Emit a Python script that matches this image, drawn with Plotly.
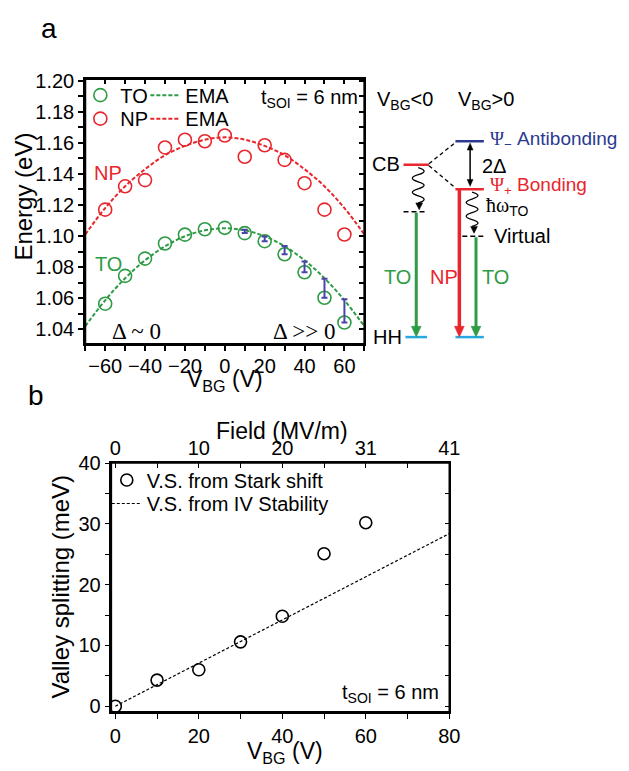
import plotly.graph_objects as go

W, H = 629, 771
SANS = "Liberation Sans, Arial, sans-serif"
SERIF = "Liberation Serif, Times New Roman, serif"

RED = "#E8262D"
GREEN = "#2E9B45"
ERRC = "#4A44A8"
NAVY = "#2B3990"
CYAN = "#27AAE1"

# ---------------- panel a data ----------------
vbg_a = [-60, -50, -40, -30, -20, -10, 0, 10, 20, 30, 40, 50, 60]
np_energy = [1.117, 1.132, 1.136, 1.157, 1.162, 1.161, 1.1647, 1.151, 1.1584, 1.149, 1.134, 1.117, 1.101]
to_energy = [1.0565, 1.0744, 1.0855, 1.0952, 1.1009, 1.1044, 1.1053, 1.1019, 1.0967, 1.0883, 1.0767, 1.0603, 1.0444]
ema_vbg = [-70, -60, -50, -40, -30, -20, -10, 0, 10, 20, 30, 40, 50, 60, 70]
ema_np = [1.101, 1.118, 1.132, 1.143, 1.152, 1.158, 1.162, 1.1635, 1.162, 1.158, 1.152, 1.143, 1.132, 1.118, 1.101]
ema_to = [1.042, 1.0587, 1.0729, 1.0844, 1.0934, 1.0999, 1.1037, 1.105, 1.1037, 1.0999, 1.0934, 1.0844, 1.0729, 1.0587, 1.042]
split_vbg = [10, 20, 30, 40, 50, 60]
split_energy = [1.1019, 1.0967, 1.0883, 1.0767, 1.0603, 1.0444]
half_split = [0.0021, 0.0031, 0.0053, 0.0070, 0.0122, 0.0150]
xticks_a = [-60, -40, -20, 0, 20, 40, 60]
top_ticks_a = [-70, -60, -50, -40, -30, -20, -10, 0, 10, 20, 30, 40, 50, 60, 70]
right_ticks_a = [1.04, 1.05, 1.06, 1.07, 1.08, 1.09, 1.10, 1.11, 1.12, 1.13, 1.14, 1.15, 1.16, 1.17, 1.18, 1.19, 1.20]

# ---------------- panel b data ----------------
vbg_b = [0, 10, 20, 30, 40, 50, 60]
vs_stark = [0.0, 4.3, 6.0, 10.6, 14.8, 25.1, 30.2]
iv_vbg = [0, 80]
iv_vs = [0.0, 28.4]
field_tickvals = [0, 10, 20, 30, 40, 50, 60, 70, 80]
field_ticktext = ["0", "", "10", "", "20", "", "31", "", "41"]
right_ticks_b = [0, 5, 10, 15, 20, 25, 30, 35, 40]


def px(x):
    return x / W


def py(y):
    return 1 - y / H


fig = go.Figure()

# EMA curves
fig.add_trace(go.Scatter(x=ema_vbg, y=ema_to, mode="lines", name="EMA", legend="legend", legendrank=2,
                         line=dict(color=GREEN, width=2, dash="4px,2px", shape="spline")))
fig.add_trace(go.Scatter(x=ema_vbg, y=ema_np, mode="lines", name="EMA", legend="legend2", legendrank=2,
                         line=dict(color=RED, width=2, dash="4px,2px", shape="spline")))
# data markers
fig.add_trace(go.Scatter(x=vbg_a, y=to_energy, mode="markers", name="TO", legend="legend", legendrank=1,
                         marker=dict(symbol="circle-open", size=13, color=GREEN, line=dict(width=1.6, color=GREEN))))
fig.add_trace(go.Scatter(x=vbg_a, y=np_energy, mode="markers", name="NP", legend="legend2", legendrank=1,
                         marker=dict(symbol="circle-open", size=13, color=RED, line=dict(width=1.6, color=RED))))
# legend spacers (keep the last legend label from being clipped)
for lg in ("legend", "legend2"):
    fig.add_trace(go.Scatter(x=[None], y=[None], mode="lines", name=" ", legend=lg, legendrank=3,
                             line=dict(color="rgba(0,0,0,0)", width=0), hoverinfo="skip"))
# splitting bars
fig.add_trace(go.Scatter(x=split_vbg, y=split_energy, mode="markers", showlegend=False,
                         marker=dict(size=1, color="rgba(0,0,0,0)"),
                         error_y=dict(type="data", symmetric=False, array=half_split,
                                      arrayminus=[0] * len(half_split), color=ERRC, thickness=2, width=3)))
# invisible traces so the mirror (top/right) axes subplots are drawn
fig.add_trace(go.Scatter(x=[0], y=[1.1], xaxis="x2", yaxis="y2", mode="markers", showlegend=False,
                         marker=dict(size=1, color="rgba(0,0,0,0)"), hoverinfo="skip"))
fig.add_trace(go.Scatter(x=[0], y=[0], xaxis="x4", yaxis="y4", mode="markers", showlegend=False,
                         marker=dict(size=1, color="rgba(0,0,0,0)"), hoverinfo="skip"))

# panel b
fig.add_trace(go.Scatter(x=iv_vbg, y=iv_vs, mode="lines", name="V.S. from IV Stability", legend="legend4",
                         xaxis="x3", yaxis="y3",
                         line=dict(color="black", width=1.2, dash="3px,2px")))
fig.add_trace(go.Scatter(x=vbg_b, y=vs_stark, mode="markers", name="V.S. from Stark shift", legend="legend3",
                         xaxis="x3", yaxis="y3",
                         marker=dict(symbol="circle-open", size=12, color="black", line=dict(width=1.6, color="black"))))

tickfont = dict(family=SANS, size=20, color="black")
common = dict(showgrid=False, zeroline=False, showline=True, linecolor="black", tickcolor="black")
lgfont = dict(family=SANS, size=20, color="black")

a_xdom = [px(85), px(370)]
a_ydom = [py(340), py(69.5)]
a_xr = [-70, 70]
a_yr = [1.0306, 1.201]

b_xdom = [px(111.7), px(456.7)]
b_ydom = [py(715.7), py(461.7)]
b_xr = [-0.94, 80]
b_yr = [-0.92, 40]

layout = dict(
    width=W, height=H, autosize=False,
    margin=dict(l=0, r=0, t=0, b=0),
    paper_bgcolor="white", plot_bgcolor="rgba(0,0,0,0)",
    font=dict(family=SANS, color="black"),
    xaxis=dict(domain=a_xdom, range=a_xr, anchor="y", tickvals=xticks_a, ticks="outside", ticklen=5,
               tickwidth=1.5, linewidth=2, tickfont=tickfont, mirror=True, ticklabelstandoff=-2,
               minor=dict(tick0=-70, dtick=10, ticks="outside", ticklen=5, tickwidth=1.5, tickcolor="black"),
               **common),
    yaxis=dict(domain=a_ydom, range=a_yr, anchor="x", tick0=1.04, dtick=0.02, tickformat=".2f",
               ticks="outside", ticklen=5, tickwidth=1.5, linewidth=2, tickfont=tickfont, mirror=True,
               minor=dict(tick0=1.04, dtick=0.01, ticks="outside", ticklen=5, tickwidth=1.5, tickcolor="black"),
               **common),
    xaxis2=dict(domain=a_xdom, side="top", anchor="y2", range=a_xr, tickmode="array", tickvals=top_ticks_a,
                ticktext=[""] * len(top_ticks_a), ticks="inside", ticklen=5, tickwidth=1.5, linewidth=2,
                tickfont=tickfont, **common),
    yaxis2=dict(domain=a_ydom, side="right", anchor="x2", range=a_yr, tickmode="array", tickvals=right_ticks_a,
                ticktext=[""] * len(right_ticks_a), ticks="inside", ticklen=5, tickwidth=1.5, linewidth=2,
                tickfont=tickfont, **common),
    xaxis3=dict(domain=b_xdom, range=b_xr, anchor="y3", tickvals=[0, 20, 40, 60, 80], ticks="outside",
                ticklen=5, tickwidth=1.2, linewidth=1.5, tickfont=tickfont, mirror=True,
                minor=dict(tick0=0, dtick=10, ticks="outside", ticklen=5, tickwidth=1.2, tickcolor="black"),
                **common),
    yaxis3=dict(domain=b_ydom, range=b_yr, anchor="x3", tickvals=[0, 10, 20, 30, 40], ticks="outside",
                ticklen=5, tickwidth=1.2, linewidth=1.5, tickfont=tickfont, mirror=True,
                minor=dict(tick0=0, dtick=5, ticks="outside", ticklen=5, tickwidth=1.2, tickcolor="black"),
                **common),
    xaxis4=dict(domain=b_xdom, side="top", anchor="y4", range=b_xr, tickmode="array",
                tickvals=field_tickvals, ticktext=field_ticktext, ticks="inside", ticklen=5, tickwidth=1.2,
                linewidth=1.5, tickfont=tickfont, ticklabelstandoff=-2, **common),
    yaxis4=dict(domain=b_ydom, side="right", anchor="x4", range=b_yr, tickmode="array", tickvals=right_ticks_b,
                ticktext=[""] * len(right_ticks_b), ticks="inside", ticklen=5, tickwidth=1.2, linewidth=1.5,
                tickfont=tickfont, **common),
    legend=dict(orientation="h", x=px(80), y=py(66), xanchor="left", yanchor="top", bgcolor="rgba(0,0,0,0)",
                font=lgfont, itemwidth=30, entrywidth=20, entrywidthmode="pixels", traceorder="normal"),
    legend2=dict(orientation="h", x=px(80), y=py(90), xanchor="left", yanchor="top", bgcolor="rgba(0,0,0,0)",
                 font=lgfont, itemwidth=30, entrywidth=20, entrywidthmode="pixels", traceorder="normal"),
    legend3=dict(orientation="v", x=px(107), y=py(459), xanchor="left", yanchor="top", bgcolor="rgba(0,0,0,0)",
                 font=lgfont, itemwidth=30),
    legend4=dict(orientation="v", x=px(107), y=py(483), xanchor="left", yanchor="top", bgcolor="rgba(0,0,0,0)",
                 font=lgfont, itemwidth=30),
)
fig.update_layout(**layout)

ann = []


def text(x, y, s, size=20, color="black", xanchor="center", yanchor="middle", family=SANS, angle=0):
    ann.append(dict(x=px(x), y=py(y), xref="paper", yref="paper", text=s, showarrow=False,
                    xanchor=xanchor, yanchor=yanchor, textangle=angle,
                    font=dict(family=family, size=size, color=color)))


# panel labels and titles
text(48, 18, "a", size=28)
text(35, 393, "b", size=28)
text(22, 190, "Energy (eV)", size=24, angle=-90)
text(228, 377, "V<sub>BG</sub> (V)", size=23)
text(262, 89, "t<sub>SOI</sub> = 6 nm", size=20, xanchor="left")
text(108, 165, "NP", size=20, color=RED)
text(109, 258, "TO", size=20, color=GREEN)
text(137, 327, "Δ ~ 0", size=23, family=SERIF)
text(308, 327, "Δ &gt;&gt; 0", size=23, family=SERIF)

text(286, 429, "Field (MV/m)", size=23)
text(60, 588, "Valley splitting (meV)", size=24, angle=-90)
text(289, 757, "V<sub>BG</sub> (V)", size=23)
text(345, 697, "t<sub>SOI</sub> = 6 nm", size=20, xanchor="left")

# energy diagram text
text(412, 91, "V<sub>BG</sub>&lt;0", size=20)
text(494, 91, "V<sub>BG</sub>&gt;0", size=20)
text(408, 156, "CB", size=20, xanchor="right")
text(496, 132, '<span style="font-family:Liberation Serif">Ψ</span><sub>−</sub> Antibonding', size=19,
     color=NAVY, xanchor="left")
text(488, 158, "2Δ", size=20, xanchor="left")
text(496, 179, '<span style="font-family:Liberation Serif">Ψ</span><sub>+</sub> Bonding', size=19,
     color=RED, xanchor="left")
text(492, 200, '<span style="font-family:Liberation Serif">ħω</span><sub>TO</sub>', size=20, xanchor="left")
text(500, 230, "Virtual", size=20, xanchor="left")
text(404, 272, "TO", size=20, color=GREEN)
text(451, 272, "NP", size=20, color=RED)
text(504, 272, "TO", size=20, color=GREEN)
text(410, 333, "HH", size=20, xanchor="right")

shapes = []

# plot frames (drawn on the axes' own domains)
shapes.append(dict(type="rect", xref="x domain", yref="y domain", x0=0, x1=1, y0=0, y1=1,
                   line=dict(color="black", width=2), fillcolor="rgba(0,0,0,0)", layer="above"))
shapes.append(dict(type="rect", xref="x3 domain", yref="y3 domain", x0=0, x1=1, y0=0, y1=1,
                   line=dict(color="black", width=1.5), fillcolor="rgba(0,0,0,0)", layer="above"))


def line(x0, y0, x1, y1, color, width, dash="solid"):
    shapes.append(dict(type="line", xref="paper", yref="paper", x0=px(x0), y0=py(y0), x1=px(x1), y1=py(y1),
                       line=dict(color=color, width=width, dash=dash)))


def tri(x, ytip, hw, hl, color, up=False):
    s = -1 if up else 1
    path = (f"M {px(x)},{py(ytip)} L {px(x - hw)},{py(ytip - s * hl)} "
            f"L {px(x + hw)},{py(ytip - s * hl)} Z")
    shapes.append(dict(type="path", xref="paper", yref="paper", path=path, fillcolor=color,
                       line=dict(color=color, width=0.5)))


def arrow_down(x, y0, ytip, color, width, hw, hl):
    line(x, y0, x, ytip - hl + 1, color, width)
    tri(x, ytip, hw, hl, color)


def wave(xc, y0, y1, amp, nh, color="black", width=1.3):
    d = f"M {px(xc)},{py(y0)}"
    step = (y1 - y0) / nh
    for i in range(nh):
        ya = y0 + i * step
        yb = ya + step
        side = 1 if i % 2 == 0 else -1
        d += f" Q {px(xc + side * amp * 2)},{py((ya + yb) / 2)} {px(xc)},{py(yb)}"
    shapes.append(dict(type="path", xref="paper", yref="paper", path=d, line=dict(color=color, width=width)))


# levels
line(463, 133, 492, 133, NAVY, 2.5)
line(410, 157, 436, 157, RED, 2.5)
line(463, 182, 492, 182, RED, 2.5)
line(436, 156, 462, 135, "black", 1.3, "4px,3px")
line(436, 158, 461, 179, "black", 1.3, "4px,3px")
line(410, 205, 433, 205, "black", 1.5, "5px,3px")
line(470, 230, 493, 230, "black", 1.5, "5px,3px")
line(412, 333, 434, 333, CYAN, 2.5)
line(463, 333, 492, 333, CYAN, 2.5)
# 2 delta arrow
line(478, 140, 478, 174, "black", 1.5)
tri(478, 135, 3, 7, "black", up=True)
tri(478, 179, 3, 7, "black")
# transitions
arrow_down(423, 206, 333, GREEN, 3, 5, 11)
arrow_down(467, 182, 333, RED, 3.5, 5, 11)
arrow_down(484, 231, 333, GREEN, 3, 5, 11)
# phonon waves
wave(425, 160, 196, 6, 5)
tri(426, 203, 3.5, 7, "black")
wave(480, 185, 220, 6, 5)
tri(482, 227, 3.5, 7, "black")

fig.update_layout(annotations=ann, shapes=shapes)
fig.write_html("out.html")
